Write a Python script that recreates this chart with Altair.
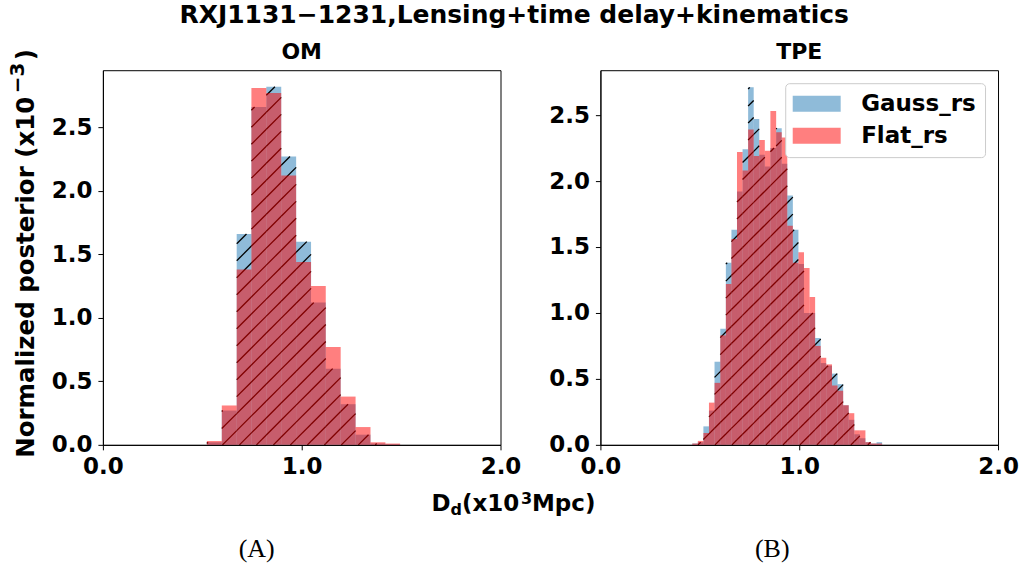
import math
import altair as alt
import pandas as pd

# ---------------- data ----------------
# OM panel (A)
om_edges = [0.523, 0.598, 0.673, 0.747, 0.822, 0.897, 0.972, 1.047, 1.121,
            1.196, 1.271, 1.346, 1.421, 1.495]
om_gauss = [0.02, 0.27, 1.66, 2.66, 2.82, 2.27, 1.60, 1.12, 0.60, 0.32, 0.08, 0.01, 0.005]
om_flat = [0.03, 0.31, 1.38, 2.81, 2.77, 2.12, 1.44, 1.25, 0.77, 0.38, 0.14, 0.02, 0.01]

# TPE panel (B)
tpe_edges = [0.462, 0.490, 0.518, 0.546, 0.574, 0.603, 0.631, 0.659, 0.687,
             0.715, 0.743, 0.771, 0.799, 0.827, 0.855, 0.884, 0.912, 0.940,
             0.968, 0.996, 1.024, 1.052, 1.080, 1.108, 1.136, 1.165, 1.193,
             1.221, 1.249, 1.277, 1.305, 1.333, 1.361, 1.389, 1.417]
tpe_gauss = [0.01, 0.02, 0.14, 0.26, 0.63, 0.88, 1.38, 1.63, 1.92, 2.24, 2.71,
             2.47, 2.20, 2.11, 2.25, 2.40, 2.13, 1.89, 1.63, 1.37, 1.00, 1.00,
             0.81, 0.62, 0.60, 0.54, 0.46, 0.30, 0.19, 0.08, 0.05, 0.02, 0.01, 0.02]
tpe_flat = [0.01, 0.03, 0.09, 0.32, 0.47, 0.83, 1.22, 1.56, 2.22, 2.08, 2.39,
            2.19, 2.31, 2.23, 2.53, 2.37, 2.33, 1.66, 1.38, 1.46, 1.34, 1.12,
            0.75, 0.66, 0.61, 0.45, 0.41, 0.30, 0.24, 0.11, 0.11, 0.02, 0.01, 0.01]

series_names = ["Gauss_rs", "Flat_rs"]
series_colors = ["#1f77b4", "#ff0000"]
x_ticks = [0.0, 1.0, 2.0]
y_ticks = [0.0, 0.5, 1.0, 1.5, 2.0, 2.5]

# ---------------- layout ----------------
W, H = 398, 375
FONT = "DejaVu Sans"
FS = 22
TFS = 23


def hatch_segments(edges, vals, ymax, phase, spacing=17.0):
    """'/' hatch lines clipped to each Gauss_rs bar (in data units)."""
    sx = W / 2.0
    sy = H / ymax
    rows = []
    for i, v in enumerate(vals):
        X0, X1 = edges[i] * sx, edges[i + 1] * sx
        Yt, Yb = H - v * sy, float(H)
        if Yb - Yt < 1.0:
            continue
        k0 = math.ceil((X0 + Yt - phase) / spacing)
        k1 = math.floor((X1 + Yb - phase) / spacing)
        for k in range(k0, k1 + 1):
            c = phase + k * spacing
            lo = max(X0, c - Yb)
            hi = min(X1, c - Yt)
            if hi - lo > 0.3:
                rows.append({"hx": lo / sx, "hy": (H - (c - lo)) / sy,
                             "hx2": hi / sx, "hy2": (H - (c - hi)) / sy})
    return pd.DataFrame(rows)


def text_layer(txt, x, y, size=FS, weight="bold", font=FONT, align="left", angle=0):
    kw = dict(font=font, fontSize=size, fontWeight=weight, align=align,
              baseline="alphabetic", color="black")
    if angle:
        kw["angle"] = angle
    return alt.Chart(pd.DataFrame({"t": [txt]})).mark_text(**kw).encode(
        text="t:N", x=alt.value(x), y=alt.value(y))


def panel(edges, gauss, flat, ymax, phase, title, show_legend):
    df_g = pd.DataFrame({"x0": edges[:-1], "x1": edges[1:], "v": gauss, "series": series_names[0]})
    df_f = pd.DataFrame({"x0": edges[:-1], "x1": edges[1:], "v": flat, "series": series_names[1]})
    xs = alt.Scale(domain=[0, 2], nice=False, zero=False)
    ys = alt.Scale(domain=[0, ymax], nice=False)
    xaxis = alt.Axis(values=x_ticks, format=".1f", title=None, labelFlush=False)
    yaxis = alt.Axis(values=y_ticks, format=".1f", title=None)
    cscale = alt.Scale(domain=series_names, range=series_colors)
    if show_legend:
        legend = alt.Legend(
            title=None, orient="top-right", offset=13,
            labelFont=FONT, labelFontSize=TFS, labelFontWeight="bold", labelColor="black",
            symbolType="M-3,-1L3,-1L3,1L-3,1Z", symbolSize=256, symbolOpacity=0.5,
            symbolStrokeWidth=0, symbolOffset=11, labelOffset=33,
            rowPadding=8, padding=9, fillColor="white", strokeColor="#cccccc",
            cornerRadius=4)
    else:
        legend = None
    blue = alt.Chart(df_g).mark_rect(opacity=0.5).encode(
        x=alt.X("x0:Q", scale=xs, axis=xaxis), x2="x1:Q",
        y=alt.Y("v:Q", scale=ys, axis=yaxis), y2=alt.datum(0),
        color=alt.Color("series:N", scale=cscale, legend=legend))
    hatch = alt.Chart(hatch_segments(edges, gauss, ymax, phase)).mark_rule(
        color="black", strokeWidth=1.3).encode(
        x="hx:Q", y="hy:Q", x2="hx2:Q", y2="hy2:Q")
    red = alt.Chart(df_f).mark_rect(opacity=0.5).encode(
        x="x0:Q", x2="x1:Q", y="v:Q", y2=alt.datum(0),
        color=alt.Color("series:N", scale=cscale, legend=legend))
    # panel title placed just above the frame
    ttl = text_layer(title, W / 2, -11, size=FS, align="center")
    return [blue, hatch, red, ttl]


left_layers = panel(om_edges, om_gauss, om_flat, 2.95, 1.7, "OM", False)
right_layers = panel(tpe_edges, tpe_gauss, tpe_flat, 2.84, 13.7, "TPE", True)

left_layers += [
    # shared y label (rotated), with superscript exponent
    text_layer("Normalized posterior (x10", -69, 388, size=24.5, angle=270),
    text_layer("\u22123", -79, 23, size=20, angle=270),
    text_layer(")", -69, -10, size=24.5, angle=270),
    # shared x label  D_d(x10^3 Mpc)
    text_layer("D", 329, 441, size=TFS),
    text_layer("d", 348, 445, size=16),
    text_layer("(x10", 359.5, 441, size=TFS),
    text_layer("3", 418.5, 434, size=16),
    text_layer("Mpc)", 429.5, 441, size=TFS),
    text_layer("(A)", 154, 487, size=26, weight="normal", font="Liberation Serif", align="center"),
]
right_layers += [
    text_layer("(B)", 172, 487, size=26, weight="normal", font="Liberation Serif", align="center"),
]

left = alt.layer(*left_layers).properties(width=W, height=H)
right = alt.layer(*right_layers).properties(width=W, height=H)

chart = alt.hconcat(left, right, spacing=100, bounds="flush").resolve_scale(
    color="independent").properties(
    title=alt.TitleParams("RXJ1131\u22121231,Lensing+time delay+kinematics",
                          font=FONT, fontSize=25, fontWeight="bold", color="black",
                          anchor="middle", offset=13, dx=1),
    padding={"left": 7, "top": 2, "right": 5, "bottom": 0},
    background="white",
).configure_view(stroke="black", strokeWidth=1).configure_axis(
    labelFont=FONT, labelFontSize=TFS, labelFontWeight="bold", labelColor="black",
    tickColor="black", tickSize=5, tickWidth=1, domainColor="black", domainWidth=1,
    labelPadding=6, grid=False, zindex=1)

chart.save("out.html", embed_options={"renderer": "svg", "actions": False})
